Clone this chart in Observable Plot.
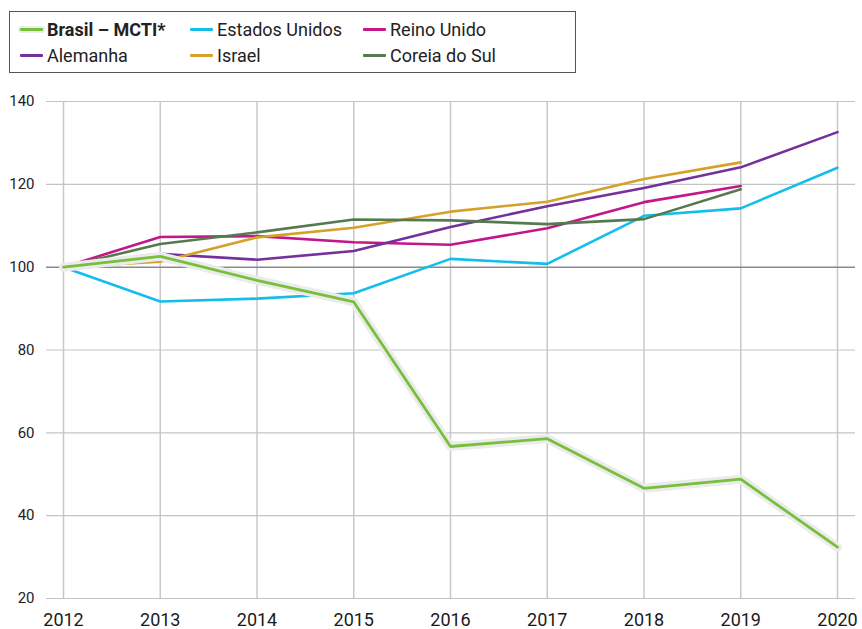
<!DOCTYPE html>
<html>
<head>
<meta charset="utf-8">
<script src="https://cdn.jsdelivr.net/npm/d3@7"></script>
<script src="https://cdn.jsdelivr.net/npm/@observablehq/plot@0.6"></script>
<style>
  body { margin: 0; background: #fff; font-family: Roboto, "Open Sans", sans-serif; }
  #legend { position: relative; height: 84px; }
  #legend .box { position: absolute; left: 9px; top: 11px; width: 565px; height: 60px; border: 1px solid #555; box-sizing: content-box; }
  #legend .item { position: absolute; display: flex; align-items: center; font-size: 18px; color: #222; white-space: nowrap; }
  #legend .sw { width: 23px; height: 3px; margin-right: 4px; border-radius: 1px; }
  #chart svg { display: block; }
</style>
</head>
<body>
<div id="legend"></div>
<div id="chart"></div>
<script>
const years = [2012, 2013, 2014, 2015, 2016, 2017, 2018, 2019, 2020];
const seriesNames = ["Brasil – MCTI*", "Estados Unidos", "Reino Unido", "Alemanha", "Israel", "Coreia do Sul"];
const seriesColors = ["#78bf3c", "#14bdeb", "#c4168b", "#74309b", "#d6a12a", "#557a50"];
const brasil = [100, 102.6, 96.8, 91.6, 56.7, 58.6, 46.6, 48.8, 32.4];
const estadosUnidos = [100, 91.7, 92.4, 93.7, 102.0, 100.8, 112.4, 114.2, 124.0];
const reinoUnido = [100, 107.3, 107.5, 106.0, 105.4, 109.4, 115.7, 119.6, null];
const alemanha = [100, 103.2, 101.8, 103.9, 109.7, 114.7, 119.1, 124.1, 132.6];
const israel = [100, 101.3, 107.2, 109.5, 113.4, 115.8, 121.3, 125.3, null];
const coreiaDoSul = [100, 105.6, 108.4, 111.5, 111.3, 110.4, 111.6, 118.8, null];
const yTicks = [20, 40, 60, 80, 100, 120, 140];

const allValues = [brasil, estadosUnidos, reinoUnido, alemanha, israel, coreiaDoSul];
const rows = [];
seriesNames.forEach((name, i) => {
  years.forEach((yr, j) => {
    const v = allValues[i][j];
    if (v != null) rows.push({series: name, year: yr, value: v});
  });
});
const brasilRows = rows.filter(d => d.series === seriesNames[0]);
const otherRows = rows.filter(d => d.series !== seriesNames[0]);

// Legend (HTML)
const legend = document.getElementById("legend");
const box = document.createElement("div"); box.className = "box"; legend.appendChild(box);
const colX = [20, 190, 363];
const rowY = [19, 45];
seriesNames.forEach((name, i) => {
  const it = document.createElement("div");
  it.className = "item";
  it.style.left = colX[i % 3] + "px";
  it.style.top = rowY[Math.floor(i / 3)] + "px";
  const sw = document.createElement("span");
  sw.className = "sw";
  sw.style.background = seriesColors[i];
  if (i === 0) sw.style.boxShadow = "0 0 0 2px #ececec";
  const tx = document.createElement("span");
  tx.textContent = name;
  if (i === 0) tx.style.fontWeight = "700";
  it.appendChild(sw); it.appendChild(tx);
  legend.appendChild(it);
});

const chart = Plot.plot({
  width: 862,
  height: 545,
  marginTop: 17,
  marginBottom: 31,
  marginLeft: 46,
  marginRight: 7,
  style: {fontFamily: "Roboto, 'Open Sans', sans-serif", background: "#fff"},
  x: {domain: [2012, 2020], range: [63, 837], axis: null},
  y: {domain: [20, 140], axis: null},
  color: {domain: seriesNames, range: seriesColors},
  marks: [
    Plot.ruleX(years, {x: d => d, stroke: "#c8c8c8", strokeWidth: 1.5}),
    Plot.ruleY(yTicks.filter(t => t !== 100), {y: d => d, stroke: "#c4c4c4", strokeWidth: 1.2}),
    Plot.ruleY([100], {y: d => d, stroke: "#8a8a8a", strokeWidth: 1.5}),
    Plot.text(yTicks, {x: 2012, y: d => d, text: d => String(d), dx: -29, textAnchor: "end", fontSize: 15, fill: "#222", fontWeight: d => d === 100 ? 700 : 400}),
    Plot.text(years, {x: d => d, y: 20, text: d => String(d), dy: 22, fontSize: 18, fill: "#1a1a1a"}),
    Plot.line(otherRows, {x: "year", y: "value", z: "series", stroke: "series", strokeWidth: 2.6}),
    Plot.line(brasilRows, {x: "year", y: "value", stroke: "#ebebeb", strokeWidth: 9, strokeLinejoin: "round", strokeLinecap: "round"}),
    Plot.line(brasilRows, {x: "year", y: "value", stroke: "series", strokeWidth: 2.8})
  ]
});
document.getElementById("chart").appendChild(chart);
</script>
</body>
</html>
